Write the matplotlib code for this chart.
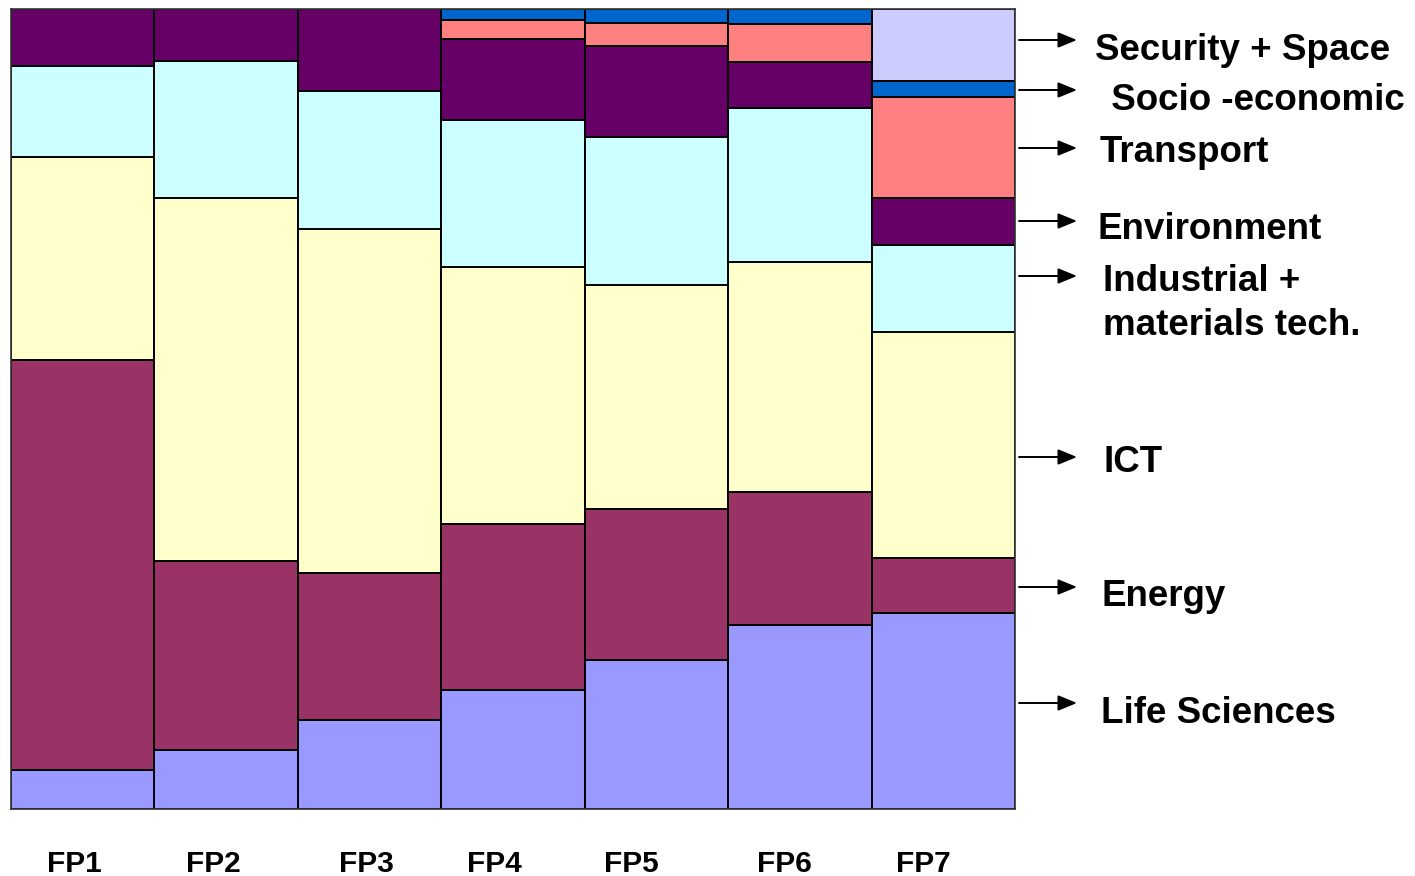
import matplotlib
matplotlib.use("Agg")
import matplotlib.pyplot as plt
import numpy as np

plt.rcParams['font.family'] = ['Liberation Sans', 'DejaVu Sans']

programmes = ["FP1", "FP2", "FP3", "FP4", "FP5", "FP6", "FP7"]

# shares (%) per programme, bottom to top
life_sciences = [4.9, 7.4, 11.1, 14.9, 18.6, 23.0, 24.5]
energy        = [51.2, 23.6, 18.4, 20.7, 18.9, 16.6, 6.9]
ict           = [25.4, 45.4, 43.0, 32.1, 28.0, 28.8, 28.2]
industrial    = [11.4, 17.1, 17.2, 18.4, 18.5, 19.2, 10.9]
environment   = [7.1, 6.5, 10.3, 10.2, 11.4, 5.8, 5.9]
transport     = [0.0, 0.0, 0.0, 2.3, 2.9, 4.7, 12.6]
socio_economic = [0.0, 0.0, 0.0, 1.4, 1.7, 1.9, 2.0]
security_space = [0.0, 0.0, 0.0, 0.0, 0.0, 0.0, 9.0]

series = [
    ("Life Sciences", life_sciences, "#9999FF"),
    ("Energy", energy, "#993366"),
    ("ICT", ict, "#FFFFCC"),
    ("Industrial +\nmaterials tech.", industrial, "#CCFFFF"),
    ("Environment", environment, "#660066"),
    ("Transport", transport, "#FF8080"),
    (" Socio -economic", socio_economic, "#0066CC"),
    ("Security + Space", security_space, "#CCCCFF"),
]

W, H = 1415, 876
fig = plt.figure(figsize=(W / 100, H / 100), dpi=100)
ax = fig.add_axes([11 / W, 1 - 809 / H, (1015 - 11) / W, (809 - 9) / H])

x = np.arange(len(programmes))
bottom = np.zeros(len(programmes))
for name, vals, col in series:
    v = np.array(vals, dtype=float)
    mask = v > 0
    ax.bar(x[mask], v[mask], width=1.0, bottom=bottom[mask], color=col,
           edgecolor="black", linewidth=1.4)
    bottom += v

ax.set_xlim(-0.5, len(programmes) - 0.5)
ax.set_ylim(0, 100)
ax.set_xticks([])
ax.set_yticks([])
for s in ax.spines.values():
    s.set_color("#333333")
    s.set_linewidth(1.2)

# x labels (pixel positions of label centres)
label_px = [74, 213, 366, 494, 631, 784, 923]
for lab, px in zip(programmes, label_px):
    fig.text(px / W, 1 - 872 / H, lab, ha="center", va="baseline",
             fontsize=21.5, fontweight="bold")

# right-hand annotations: (text, text_x, text_baseline_y, arrow_y)
annots = [
    ("Security + Space", 1095, 60, 40),
    (" Socio -economic", 1101, 110, 90),
    ("Transport", 1100, 162, 148),
    ("Environment", 1097, 239, 221),
    ("Industrial +", 1103, 291, 276),
    ("materials tech.", 1103, 335, None),
    ("ICT", 1103, 472, 457),
    ("Energy", 1101, 606, 587),
    ("Life Sciences", 1101, 723, 703),
]
for txt, tx, ty, ay in annots:
    fig.text(tx / W, 1 - ty / H, txt, ha="left", va="baseline",
             fontsize=26.5, fontweight="bold")
    if ay is not None:
        ax.annotate("", xy=(1077 / W, 1 - ay / H), xytext=(1019 / W, 1 - ay / H),
                    xycoords="figure fraction", textcoords="figure fraction",
                    arrowprops=dict(arrowstyle="-|>,head_length=1.15,head_width=0.47",
                                    mutation_scale=10, lw=1.4, color="black",
                                    shrinkA=0, shrinkB=0),
                    annotation_clip=False)

fig.savefig("out.png", dpi=100)
